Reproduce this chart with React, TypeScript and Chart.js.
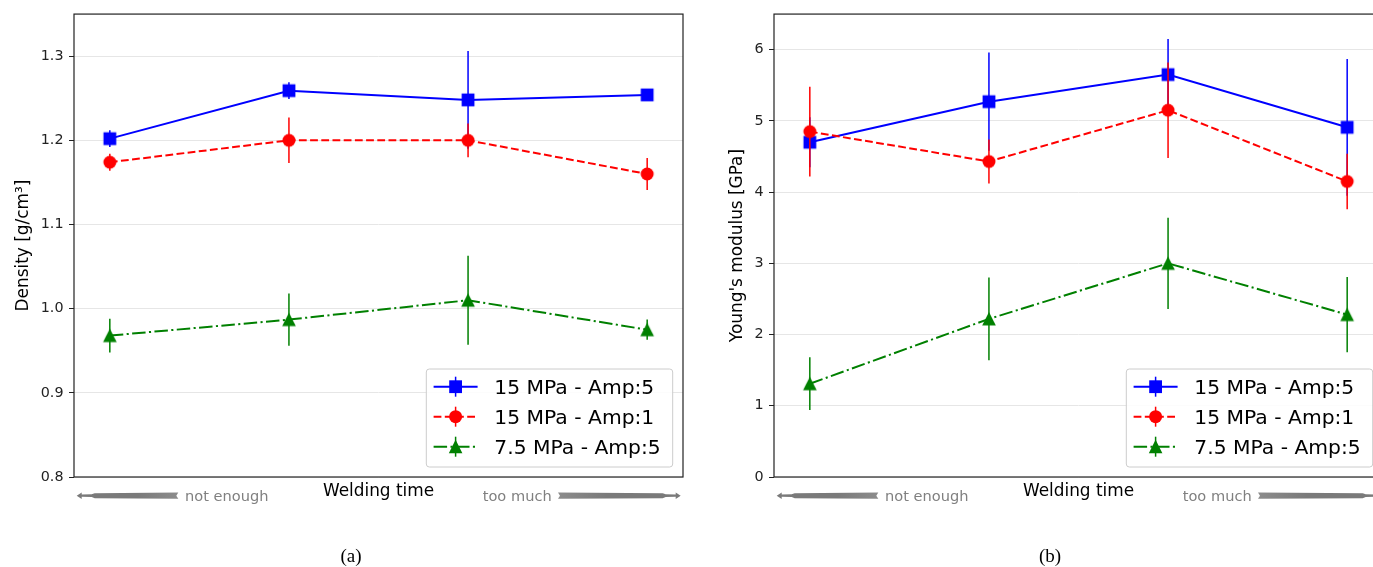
import { useEffect, useRef } from 'react';
import { Chart, registerables } from 'chart.js';

Chart.register(...registerables);

// ---------- data ----------
const weldingSteps = [0, 1, 2, 3];
const seriesLabels = ['15 MPa - Amp:5', '15 MPa - Amp:1', '7.5 MPa - Amp:5'];
const seriesColors = ['#0000ff', '#ff0000', '#008000'];

const densityAmp5 = [1.202, 1.259, 1.248, 1.254];
const densityAmp5Err = [0.01, 0.01, 0.058, 0.003];
const densityAmp1 = [1.174, 1.2, 1.2, 1.16];
const densityAmp1Err = [0.01, 0.027, 0.02, 0.019];
const densityLow = [0.968, 0.987, 1.01, 0.975];
const densityLowErr = [0.02, 0.031, 0.053, 0.012];

const modulusAmp5 = [4.7, 5.27, 5.65, 4.91];
const modulusAmp5Err = [0.35, 0.69, 0.5, 0.96];
const modulusAmp1 = [4.85, 4.43, 5.15, 4.15];
const modulusAmp1Err = [0.63, 0.31, 0.67, 0.39];
const modulusLow = [1.31, 2.22, 3.0, 2.28];
const modulusLowErr = [0.37, 0.58, 0.64, 0.53];

const densityTicks = [0.8, 0.9, 1.0, 1.1, 1.2, 1.3];
const modulusTicks = [0, 1, 2, 3, 4, 5, 6];

const FONT = 'DejaVu Sans';

// ---------- helpers ----------
type MarkerKind = 'square' | 'circle' | 'triangle';

function drawMarker(g: CanvasRenderingContext2D, kind: MarkerKind, x: number, y: number, color: string) {
  g.fillStyle = color;
  g.beginPath();
  if (kind === 'square') {
    g.rect(x - 6.4, y - 6.4, 12.8, 12.8);
  } else if (kind === 'circle') {
    g.arc(x, y, 6.5, 0, Math.PI * 2);
  } else {
    g.moveTo(x, y - 7);
    g.lineTo(x + 6.8, y + 6.6);
    g.lineTo(x - 6.8, y + 6.6);
    g.closePath();
  }
  g.fill();
}

function markerCanvas(kind: MarkerKind, color: string) {
  const c = document.createElement('canvas');
  c.width = 16;
  c.height = 16;
  const g = c.getContext('2d')!;
  drawMarker(g, kind, 8, 8, color);
  return c;
}

const errorBarPlugin = {
  id: 'errorBars',
  beforeDatasetDraw(chart: any, args: any) {
    const ds = chart.data.datasets[args.index];
    const errs: number[] = ds.errors;
    if (!errs) return;
    const ys = chart.scales.y;
    const ctx = chart.ctx;
    const a = chart.chartArea;
    ctx.save();
    ctx.beginPath();
    ctx.rect(a.left, a.top, a.right - a.left, a.bottom - a.top);
    ctx.clip();
    ctx.strokeStyle = ds.borderColor;
    ctx.lineWidth = 1.5;
    ctx.setLineDash([]);
    args.meta.data.forEach((pt: any, i: number) => {
      const v = ds.data[i].y;
      const top = ys.getPixelForValue(v + errs[i]);
      const bot = ys.getPixelForValue(v - errs[i]);
      ctx.beginPath();
      ctx.moveTo(pt.x, top);
      ctx.lineTo(pt.x, bot);
      ctx.stroke();
    });
    ctx.restore();
  },
};

function drawArrow(ctx: CanvasRenderingContext2D, tipX: number, tailX: number, y: number) {
  const d = Math.sign(tailX - tipX);
  const neck = tipX + d * 5;
  const thin = tipX + d * 15;
  const grad = ctx.createLinearGradient(tipX, 0, tailX, 0);
  grad.addColorStop(0, '#7a7a7a');
  grad.addColorStop(0.6, '#7a7a7a');
  grad.addColorStop(1, '#8c8c8c');
  ctx.fillStyle = grad;
  ctx.beginPath();
  ctx.moveTo(tipX, y);
  ctx.lineTo(neck, y - 3.2);
  ctx.lineTo(neck, y - 1.1);
  ctx.lineTo(thin, y - 1.4);
  ctx.lineTo(thin + d * 3, y - 2.5);
  ctx.lineTo(tailX, y - 3.1);
  ctx.lineTo(tailX - d * 2, y);
  ctx.lineTo(tailX, y + 3.1);
  ctx.lineTo(thin + d * 3, y + 2.5);
  ctx.lineTo(thin, y + 1.4);
  ctx.lineTo(neck, y + 1.1);
  ctx.lineTo(neck, y + 3.2);
  ctx.closePath();
  ctx.fill();
}

const decorPlugin = {
  id: 'decor',
  afterDraw(chart: any) {
    const ctx: CanvasRenderingContext2D = chart.ctx;
    const a = chart.chartArea;
    ctx.save();
    ctx.setLineDash([]);

    // frame (spines)
    ctx.strokeStyle = '#222';
    ctx.lineWidth = 1.2;
    ctx.strokeRect(a.left, a.top, a.right - a.left, a.bottom - a.top);

    // legend
    const datasets = [...chart.data.datasets];
    ctx.font = `20.3px "${FONT}"`;
    const maxW = Math.max(...datasets.map((d: any) => ctx.measureText(d.label).width));
    const boxW = 68 + maxW + 12;
    const boxH = 98;
    const boxR = a.right - 10.3;
    const boxB = a.bottom - 10;
    const bx = boxR - boxW;
    const by = boxB - boxH;
    const r = 3;
    ctx.beginPath();
    ctx.moveTo(bx + r, by);
    ctx.arcTo(bx + boxW, by, bx + boxW, by + boxH, r);
    ctx.arcTo(bx + boxW, by + boxH, bx, by + boxH, r);
    ctx.arcTo(bx, by + boxH, bx, by, r);
    ctx.arcTo(bx, by, bx + boxW, by, r);
    ctx.closePath();
    ctx.fillStyle = 'rgba(255,255,255,0.85)';
    ctx.fill();
    ctx.strokeStyle = '#cccccc';
    ctx.lineWidth = 1;
    ctx.stroke();

    datasets.forEach((d: any, i: number) => {
      const ry = by + 17.7 + i * 30;
      ctx.strokeStyle = d.borderColor;
      ctx.lineWidth = 2;
      ctx.setLineDash(d.borderDash || []);
      ctx.beginPath();
      ctx.moveTo(bx + 7.3, ry);
      ctx.lineTo(bx + 51.3, ry);
      ctx.stroke();
      ctx.setLineDash([]);
      ctx.lineWidth = 1.5;
      ctx.beginPath();
      ctx.moveTo(bx + 29.3, ry - 10);
      ctx.lineTo(bx + 29.3, ry + 10);
      ctx.stroke();
      drawMarker(ctx, d.marker, bx + 29.3, ry, d.borderColor);
      ctx.fillStyle = '#000';
      ctx.textAlign = 'left';
      ctx.textBaseline = 'alphabetic';
      ctx.fillText(d.label, bx + 68, ry + 7.4);
    });

    // x-axis title and annotations
    ctx.fillStyle = '#000';
    ctx.font = `16.9px "${FONT}"`;
    ctx.textAlign = 'center';
    ctx.textBaseline = 'alphabetic';
    ctx.fillText('Welding time', (a.left + a.right) / 2, 496);

    ctx.fillStyle = '#808080';
    ctx.font = `14.6px "${FONT}"`;
    ctx.textAlign = 'left';
    ctx.fillText('not enough', a.left + 111, 500.5);
    ctx.fillText('too much', a.right - 200.3, 500.5);

    drawArrow(ctx, a.left + 2.7, a.left + 104.3, 495.7);
    drawArrow(ctx, a.right - 2.3, a.right - 125, 495.7);

    ctx.restore();
  },
};

function makeDataset(label: string, values: number[], errors: number[], color: string, marker: MarkerKind, dash: number[], order: number) {
  return {
    label,
    data: values.map((y, i) => ({ x: weldingSteps[i], y })),
    errors,
    marker,
    order,
    borderColor: color,
    backgroundColor: color,
    borderWidth: 2,
    borderDash: dash,
    pointStyle: markerCanvas(marker, color),
    pointRadius: 7,
    pointHoverRadius: 7,
    fill: false,
    tension: 0,
  } as any;
}

function buildConfig(opt: {
  series: [number[], number[]][];
  min: number;
  max: number;
  ticks: number[];
  decimals: number;
  title: string;
  titlePad: number;
}) {
  const markers: MarkerKind[] = ['square', 'circle', 'triangle'];
  const dashes = [[], [7.8, 3.4], [13.5, 3.4, 2.1, 3.4]];
  return {
    type: 'line',
    data: {
      datasets: opt.series.map(([vals, errs], i) =>
        makeDataset(seriesLabels[i], vals, errs, seriesColors[i], markers[i], dashes[i], 3 - i)
      ),
    },
    plugins: [errorBarPlugin, decorPlugin],
    options: {
      responsive: false,
      animation: false,
      devicePixelRatio: 1,
      events: [],
      layout: { padding: { left: 0, right: 17, top: 14, bottom: 90 } },
      plugins: { legend: { display: false }, tooltip: { enabled: false } },
      scales: {
        x: { type: 'linear', min: -0.2, max: 3.2, display: false },
        y: {
          type: 'linear',
          min: opt.min,
          max: opt.max,
          afterFit: (s: any) => {
            s.width = 74;
          },
          afterBuildTicks: (s: any) => {
            s.ticks = opt.ticks.map((v) => ({ value: v }));
          },
          ticks: {
            font: { family: FONT, size: 14.3 },
            color: '#222',
            padding: 5.5,
            callback: (v: any) => Number(v).toFixed(opt.decimals),
          },
          grid: {
            color: '#e6e6e6',
            lineWidth: 1,
            tickColor: '#222',
            tickLength: 5,
            drawTicks: true,
          },
          border: { display: false },
          title: {
            display: true,
            text: opt.title,
            color: '#000',
            font: { family: FONT, size: 16.9 },
            padding: { top: opt.titlePad, bottom: 0 },
          },
        },
      },
    },
  } as any;
}

function ChartPanel({ left, make }: { left: number; make: () => any }) {
  const ref = useRef<HTMLCanvasElement>(null);
  useEffect(() => {
    const chart = new Chart(ref.current!, make());
    return () => chart.destroy();
  }, []);
  return (
    <canvas
      ref={ref}
      width={700}
      height={567}
      style={{ position: 'absolute', left, top: 0, width: 700, height: 567 }}
    />
  );
}

const captionStyle: any = {
  position: 'absolute',
  top: 545,
  width: 100,
  textAlign: 'center',
  fontFamily: '"Liberation Serif", serif',
  fontSize: 19,
  lineHeight: '22px',
  color: '#000',
};

export default function App() {
  return (
    <div
      style={{
        position: 'fixed',
        left: 0,
        top: 0,
        width: 1373,
        height: 567,
        overflow: 'hidden',
        background: '#fff',
      }}
    >
      <ChartPanel
        left={0}
        make={() =>
          buildConfig({
            series: [
              [densityAmp5, densityAmp5Err],
              [densityAmp1, densityAmp1Err],
              [densityLow, densityLowErr],
            ],
            min: 0.8,
            max: 1.35,
            ticks: densityTicks,
            decimals: 1,
            title: 'Density [g/cm³]',
            titlePad: 13,
          })
        }
      />
      <ChartPanel
        left={700}
        make={() =>
          buildConfig({
            series: [
              [modulusAmp5, modulusAmp5Err],
              [modulusAmp1, modulusAmp1Err],
              [modulusLow, modulusLowErr],
            ],
            min: 0,
            max: 6.5,
            ticks: modulusTicks,
            decimals: 0,
            title: "Young's modulus [GPa]",
            titlePad: 27.3,
          })
        }
      />
      <div style={{ ...captionStyle, left: 301 }}>(a)</div>
      <div style={{ ...captionStyle, left: 1000 }}>(b)</div>
    </div>
  );
}
